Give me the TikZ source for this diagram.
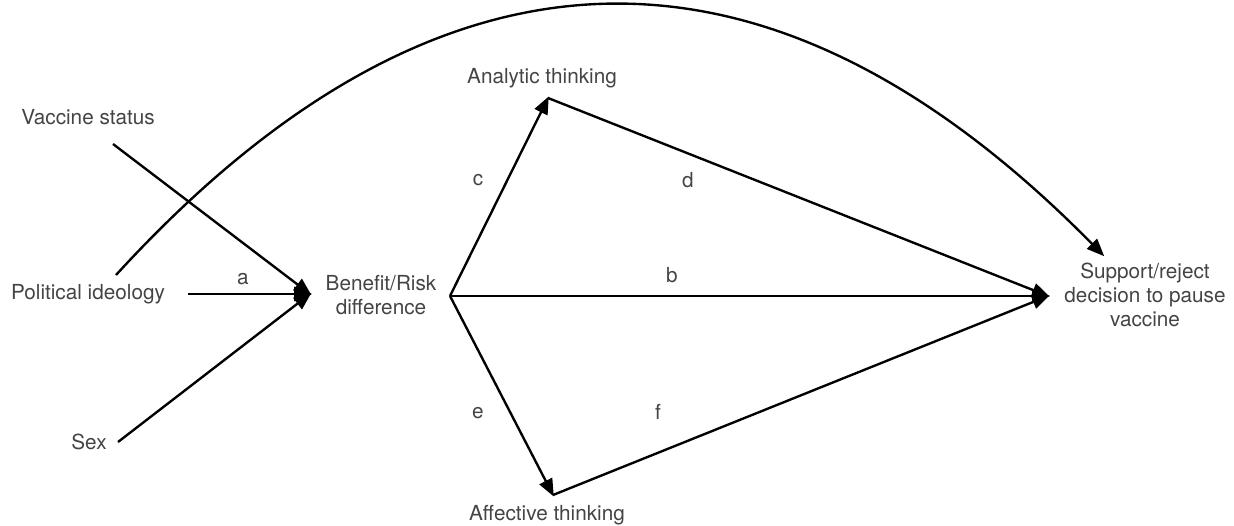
\documentclass[tikz,border=0pt]{standalone}
\usepackage{fontspec}
\setmainfont{TeX Gyre Heros}
\usetikzlibrary{arrows.meta}

\definecolor{ctext}{HTML}{444444}
\newcommand{\pxsize}{0.02}

\begin{document}
\begin{tikzpicture}[
    x=\pxsize cm, y=-\pxsize cm,
    var/.style={font=\fontsize{11.8}{13.8}\selectfont, text=ctext, align=center, inner sep=0pt},
    path/.style={font=\fontsize{11.8}{13.8}\selectfont, text=ctext, inner sep=0pt},
    link/.style={line width=1.35pt, -{Triangle[length=10pt, width=8pt]}, shorten >=-1pt},
]

% Canvas: 1234 x 526 px
\useasboundingbox (0,0) rectangle (1234,526);

% --- Variables ---
\node[var] (vstatus)   at (88,117)  {Vaccine status};
\node[var] (polid)     at (88,294)  {Political ideology};
\node[var] (sex)       at (89,442)  {Sex};
\node[var] (brdiff)    at (381,295) {Benefit/Risk\\difference};
\node[var] (analytic)  at (542,78)  {Analytic thinking};
\node[var] (affective) at (547,515) {Affective thinking};
\node[var] (support)   at (1145,295) {Support/reject\\decision to pause\\vaccine};

% --- Connector ends ---
\coordinate (vstatus-out) at (113,144);
\coordinate (polid-out)   at (188,294);
\coordinate (polid-top)   at (116,275);
\coordinate (sex-out)     at (118,442);
\coordinate (brdiff-in)   at (310,294);
\coordinate (brdiff-out)  at (450,296);
\coordinate (analytic-in) at (548,98);
\coordinate (affective-in) at (553,495);
\coordinate (support-in)  at (1048,296);
\coordinate (support-top) at (1103,255);

% --- Predictors -> Benefit/Risk ---
\draw[link] (vstatus-out) -- (brdiff-in);
\draw[link] (polid-out) -- (brdiff-in);
\draw[link] (sex-out) -- (brdiff-in);

% --- Direct path: political ideology -> decision ---
\draw[link] (polid-top) .. controls (439,-78) and (768,-85) .. (support-top);

% --- Benefit/Risk -> mediators -> decision ---
\draw[link] (brdiff-out) -- (analytic-in);
\draw[link] (brdiff-out) -- (affective-in);
\draw[link] (brdiff-out) -- (support-in);
\draw[link] (analytic-in) -- (support-in);
\draw[link] (affective-in) -- (support-in);

% Path labels
\node[path] (la) at (243,279) {a};
\node[path] (lb) at (672,275) {b};
\node[path] (lc) at (478,180) {c};
\node[path] (ld) at (688,180) {d};
\node[path] (le) at (478,413) {e};
\node[path] (lf) at (658,412) {f};

\end{tikzpicture}
\end{document}
